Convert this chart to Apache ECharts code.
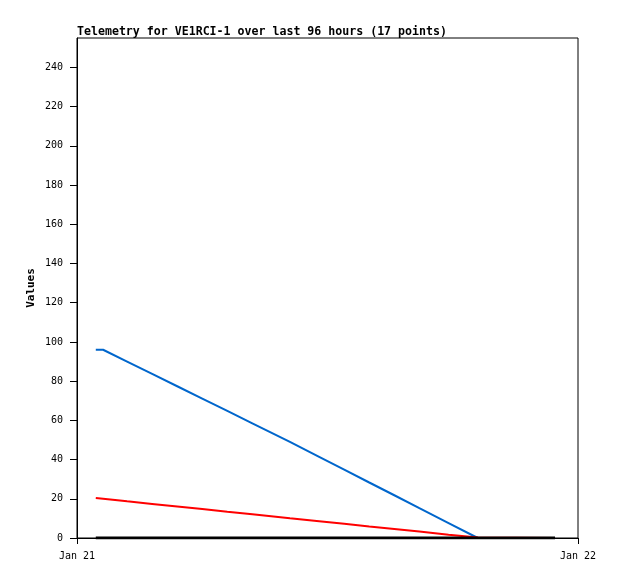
<!DOCTYPE html>
<html><head><meta charset="utf-8">
<script src="https://cdn.jsdelivr.net/npm/echarts@6/dist/echarts.min.js"></script>
<style>html,body{margin:0;padding:0;background:#fff}#c{width:618px;height:579px}</style>
</head><body><div id="c"></div>
<script>
// hours after Jan 21 00:00
const hours = [0.9, 1.25, 2.4, 3.6, 4.8, 6.0, 7.2, 8.4, 10.2, 11.6, 12.8, 14.0, 15.2, 16.4, 17.8, 19.2, 22.9];
const blueVals = [96, 96, 90, 83.7, 77.4, 71.1, 64.8, 58.5, 49, 41.4, 34.9, 28.3, 21.8, 15.2, 7.6, 0, 0];
const redVals = [20.4, 20.0, 18.7, 17.4, 16.1, 14.8, 13.4, 12.1, 10.1, 8.6, 7.3, 5.9, 4.6, 3.3, 1.7, 0.2, 0];
const blackVals = [0, 0, 0, 0, 0, 0, 0, 0, 0, 0, 0, 0, 0, 0, 0, 0, 0];
const xTickLabels = ['Jan 21', 'Jan 22'];
const titleText = 'Telemetry for VE1RCI-1 over last 96 hours (17 points)';

const zip = (xs, ys) => xs.map((x, i) => [x, ys[i]]);
const font = 'DejaVu Sans Mono';
const chart = echarts.init(document.getElementById('c'), null, {renderer: 'canvas'});
chart.setOption({
  animation: false,
  title: {text: titleText, left: 72, top: 21, textStyle: {fontFamily: font, fontSize: 11.6, fontWeight: 'bold', color: '#000'}},
  grid: {left: 77, top: 38, right: 40, bottom: 41, show: true, borderColor: '#000', borderWidth: 1},
  xAxis: {
    type: 'value', min: 0, max: 24, interval: 24,
    axisLine: {lineStyle: {color: '#000'}},
    axisTick: {show: true, length: 6, lineStyle: {color: '#000'}},
    splitLine: {show: false},
    axisLabel: {margin: 13, fontFamily: font, fontSize: 10, color: '#000',
      formatter: v => v === 0 ? xTickLabels[0] : (v === 24 ? xTickLabels[1] : '')}
  },
  yAxis: {
    type: 'value', min: 0, max: 255, interval: 20,
    name: 'Values', nameLocation: 'middle', nameGap: 40, nameMoveOverlap: false,
    nameTextStyle: {fontFamily: font, fontSize: 11, fontWeight: 'bold', color: '#000'},
    axisLine: {show: true, lineStyle: {color: '#000'}},
    axisTick: {show: true, length: 7, lineStyle: {color: '#000'}},
    splitLine: {show: false},
    axisLabel: {margin: 14, fontFamily: font, fontSize: 10, color: '#000', showMaxLabel: false,
      formatter: v => (v % 20 === 0 ? String(v) : '')}
  },
  series: [
    {type: 'line', data: zip(hours, blueVals), showSymbol: false, lineStyle: {color: '#0066cc', width: 2}, z: 3},
    {type: 'line', data: zip(hours, redVals), showSymbol: false, lineStyle: {color: '#ff0000', width: 2}, z: 4},
    {type: 'line', data: zip(hours, blackVals), showSymbol: false, lineStyle: {color: '#000000', width: 3}, z: 5}
  ]
});
</script></body></html>
